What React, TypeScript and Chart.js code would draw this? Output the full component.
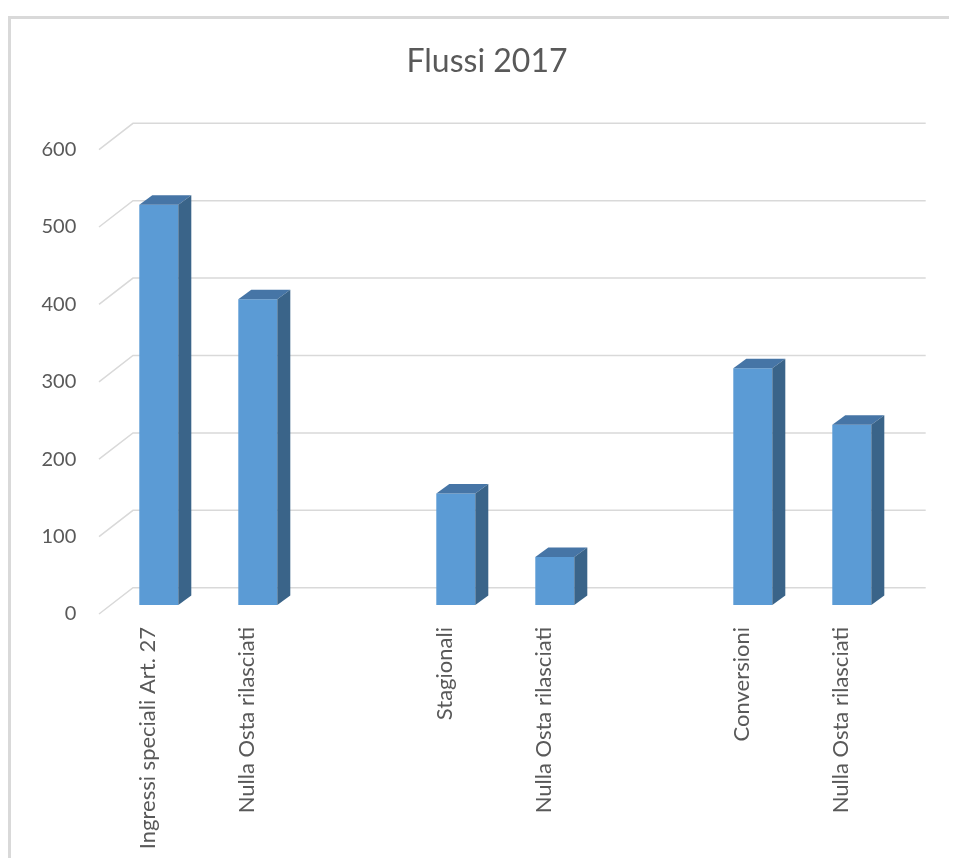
import React, { useEffect, useRef } from "react";
import { Chart, registerables } from "chart.js";

Chart.register(...registerables);

const TITLE = "Flussi 2017";
const categories: string[] = [
  "Ingressi speciali Art. 27",
  "Nulla Osta rilasciati",
  "",
  "Stagionali",
  "Nulla Osta rilasciati",
  "",
  "Conversioni",
  "Nulla Osta rilasciati",
];
const values: (number | null)[] = [517, 395, null, 144, 62, null, 306, 233];
const yTicks: number[] = [0, 100, 200, 300, 400, 500, 600];

const FONT = "Lato, 'Open Sans', sans-serif";
const TEXT = "#595959";
const GRID = "#d9d9d9";
const FRONT = "#5b9bd5";
const TOP = "#4675a6";
const SIDE = "#3a6489";
const DX = 13;
const DY = -9.5;

const W = 941;
const H = 850;

const wallPlugin = {
  id: "wall",
  beforeDatasetsDraw(chart: any) {
    const ctx = chart.ctx;
    const ys = chart.scales.y;
    ctx.save();
    ctx.strokeStyle = GRID;
    ctx.lineWidth = 1.5;
    for (const v of yTicks) {
      const y = ys.getPixelForValue(v);
      ctx.beginPath();
      ctx.moveTo(91, y + 9);
      ctx.lineTo(125, y - 17.3);
      ctx.lineTo(917.7, y - 17.3);
      ctx.stroke();
    }
    ctx.restore();
  },
};

const bar3dPlugin = {
  id: "bar3d",
  afterDatasetsDraw(chart: any) {
    const ctx = chart.ctx;
    const meta = chart.getDatasetMeta(0);
    ctx.save();
    meta.data.forEach((el: any, i: number) => {
      if (values[i] == null) return;
      const { x, y, base, width } = el.getProps(["x", "y", "base", "width"], true);
      const l = x - width / 2;
      const r = x + width / 2;
      ctx.fillStyle = TOP;
      ctx.beginPath();
      ctx.moveTo(l, y);
      ctx.lineTo(l + DX, y + DY);
      ctx.lineTo(r + DX, y + DY);
      ctx.lineTo(r, y);
      ctx.closePath();
      ctx.fill();
      ctx.fillStyle = SIDE;
      ctx.beginPath();
      ctx.moveTo(r, y);
      ctx.lineTo(r + DX, y + DY);
      ctx.lineTo(r + DX, base + DY);
      ctx.lineTo(r, base);
      ctx.closePath();
      ctx.fill();
    });
    ctx.restore();
  },
};

const titlePlugin = {
  id: "customTitle",
  afterDraw(chart: any) {
    const ctx = chart.ctx;
    ctx.save();
    ctx.font = `32px ${FONT}`;
    ctx.fillStyle = TEXT;
    ctx.textAlign = "center";
    ctx.textBaseline = "alphabetic";
    ctx.fillText(TITLE, 479, 64.3);
    ctx.restore();
  },
};

export default function App() {
  const ref = useRef<HTMLCanvasElement | null>(null);

  useEffect(() => {
    let chart: Chart | null = null;
    let cancelled = false;
    const make = () => {
      if (cancelled || !ref.current) return;
      chart = new Chart(ref.current, {
        type: "bar",
        data: {
          labels: categories,
          datasets: [
            {
              data: values as any,
              backgroundColor: FRONT,
              borderWidth: 0,
              categoryPercentage: 1,
              barPercentage: 0.394,
            },
          ],
        },
        options: {
          responsive: false,
          animation: false,
          devicePixelRatio: 1,
          layout: { padding: { left: 0, right: 47.7, top: 132.6, bottom: 0 } },
          plugins: {
            legend: { display: false },
            title: { display: false },
            tooltip: { enabled: false },
          },
          scales: {
            x: {
              grid: { display: false, drawTicks: false },
              border: { display: false },
              ticks: {
                autoSkip: false,
                minRotation: 90,
                maxRotation: 90,
                padding: 22,
                labelOffset: -11,
                color: TEXT,
                font: { family: FONT, size: 22 },
              },
              afterFit: (s: any) => {
                s.height = 253;
              },
            },
            y: {
              min: 0,
              max: 600,
              grid: { display: false, drawTicks: false },
              border: { display: false },
              ticks: {
                stepSize: 100,
                padding: 33,
                labelOffset: 9,
                color: TEXT,
                font: { family: FONT, size: 20 },
              },
              afterFit: (s: any) => {
                s.width = 101.3;
              },
            },
          },
        },
        plugins: [wallPlugin, bar3dPlugin, titlePlugin],
      });
    };
    const fonts: any = (document as any).fonts;
    if (fonts && fonts.load) {
      Promise.all([fonts.load(`20px Lato`), fonts.load(`32px Lato`)])
        .catch(() => {})
        .then(make);
    } else {
      make();
    }
    return () => {
      cancelled = true;
      if (chart) chart.destroy();
    };
  }, []);

  return (
    <div style={{ position: "relative", width: W, height: H, background: "#fff" }}>
      <div
        style={{
          position: "absolute",
          left: 0,
          top: 8,
          width: W + 8,
          height: H,
          borderLeft: `3px solid ${GRID}`,
          borderTop: `3px solid ${GRID}`,
          boxSizing: "border-box",
        }}
      />
      <canvas
        ref={ref}
        width={W}
        height={H}
        style={{ position: "absolute", left: 0, top: 0, width: W, height: H }}
      />
    </div>
  );
}
